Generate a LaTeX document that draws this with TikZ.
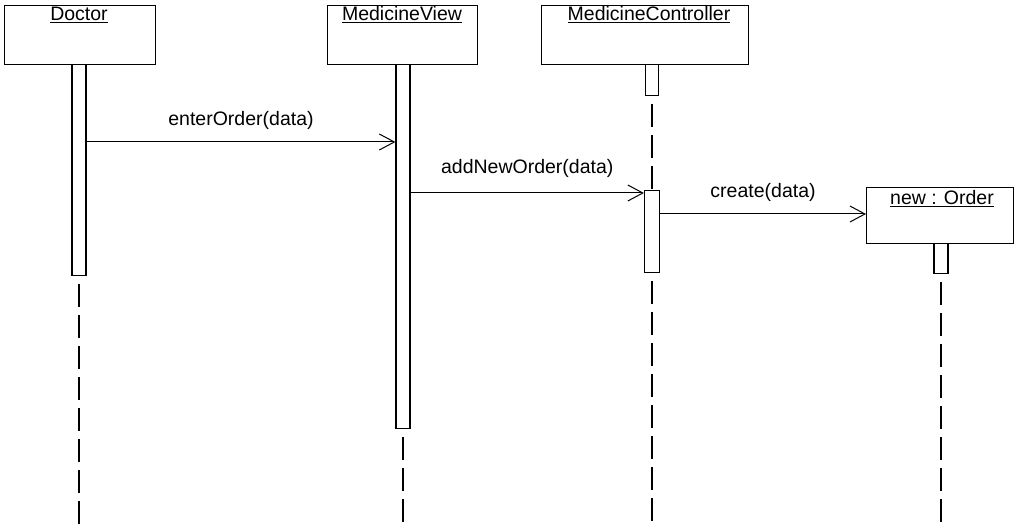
\documentclass[tikz,border=0pt]{standalone}
\usepackage{fontspec}
\setmainfont{Liberation Sans}
\usetikzlibrary{arrows.meta}
\begin{document}
\begin{tikzpicture}[x=1pt,y=-1pt,
  obj/.style={draw, line width=1.2pt, minimum width=#1, minimum height=59pt, inner sep=0pt, anchor=north west},
  act/.style={draw, line width=1.2pt, minimum width=14pt, inner sep=0pt, anchor=north},
  life/.style={line width=1.3pt, dash pattern=on 23pt off 8pt, dash phase=23pt},
  msg/.style={line width=1pt, -{Straight Barb[length=15pt,width=16pt,line width=1pt]}},
  lbl/.style={font=\fontsize{19.5pt}{22pt}\selectfont, inner sep=0pt},
  msglbl/.style={lbl, midway, yshift=22pt},
]
\useasboundingbox (0,0) rectangle (1015,529);
\coordinate (bot) at (0,529);
\coordinate (y1) at (0,142);
\coordinate (y2) at (0,193);
\coordinate (y3) at (0,214);

% object boxes
\node[obj=151pt] (doc) at (4,5) {};
\node[lbl, anchor=base] (docT) at (79,21) {\underline{Doctor}};
\node[obj=150pt] (mv) at (327,5) {};
\node[lbl, anchor=base] (mvT) at (402,21) {\underline{MedicineView}};
\node[obj=207pt] (mc) at (541,5) {};
\node[lbl, anchor=base] (mcT) at (649,21) {\underline{MedicineController}};
\node[obj=147pt, minimum height=56pt] (ord) at (866,187) {};
\node[lbl, anchor=base] (ordT) at (942,205) {\underline{new : Order}};

% activations
\node[act, minimum height=211pt] (docA) at (79,64) {};
\node[act, minimum height=364pt] (mvA) at (403,64) {};
\node[act, minimum height=31pt, minimum width=13pt] (mcA0) at (652,64) {};
\node[act, minimum height=82pt, minimum width=15pt] (mcA) at (652,190) {};
\node[act, minimum height=30pt] (ordA) at (941,243) {};

% lifelines
\draw[life] (docA.south) -- (docA.south |- bot);
\draw[life] (mvA.south) -- (mvA.south |- bot);
\draw[life] (mcA0.south) -- (mcA.north);
\draw[life] (mcA.south) -- (mcA.south |- bot);
\draw[life] (ordA.south) -- (ordA.south |- bot);

% messages
\draw[msg] (docA.east |- y1) -- node[msglbl] {enterOrder(data)} (mvA.west |- y1);
\draw[msg] (mvA.east |- y2) -- node[msglbl, yshift=3pt] {addNewOrder(data)} (mcA.west |- y2);
\draw[msg] (mcA.east |- y3) -- node[msglbl] {create(data)} (ord.west |- y3);
\end{tikzpicture}
\end{document}
